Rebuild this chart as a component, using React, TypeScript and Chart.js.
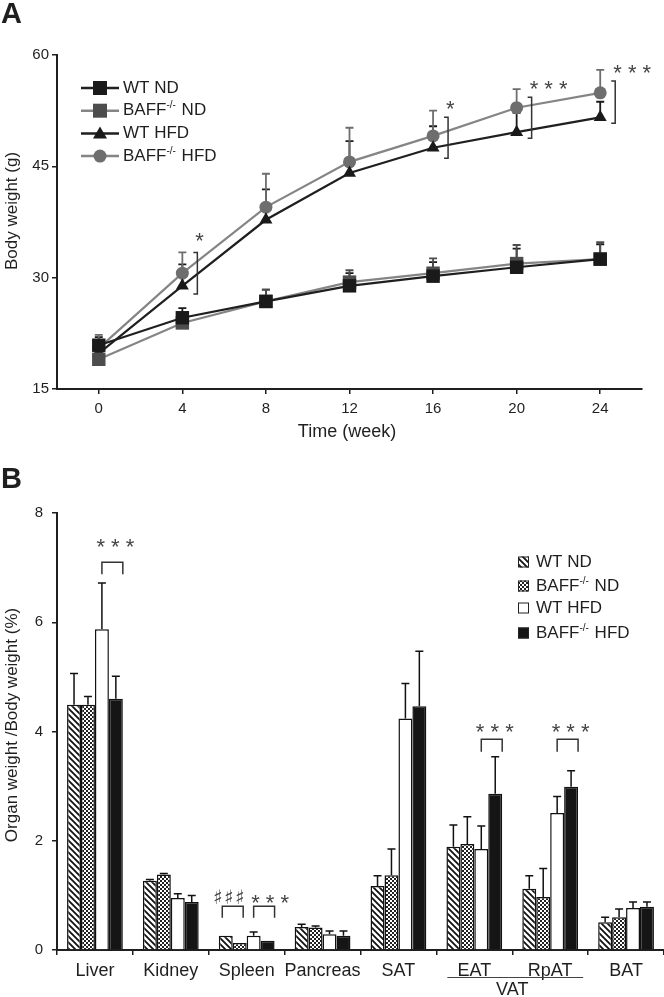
import React, { useEffect, useRef } from "react";
import { Chart, registerables } from "chart.js";
Chart.register(...registerables);

const FONT = "'Liberation Sans', Arial, Helvetica, sans-serif";
const INK = "#1f1f1f";
const GRAY_LINE = "#858585";

// ---------- Panel A: body weight ----------
const WEEKS = [0, 4, 8, 12, 16, 20, 24];
const WT_ND = [20.9, 24.6, 26.8, 28.9, 30.2, 31.4, 32.5];
const WT_ND_SD = [1.1, 1.3, 1.6, 1.7, 1.9, 2.5, 2.0];
const BAFF_ND = [19.0, 23.9, 26.8, 29.4, 30.6, 31.9, 32.5];
const BAFF_ND_SD = [1.2, 0.8, 1.6, 1.6, 2.0, 2.5, 2.3];
const WT_HFD = [19.8, 28.9, 37.8, 44.1, 47.5, 49.6, 51.6];
const WT_HFD_SD = [1.2, 2.9, 4.1, 4.3, 2.9, 2.6, 2.1];
const BAFF_HFD = [20.5, 30.6, 39.5, 45.6, 49.1, 52.9, 54.9];
const BAFF_HFD_SD = [1.8, 2.8, 4.5, 4.6, 3.4, 2.5, 3.1];
const WEIGHT_TICKS = [15, 30, 45, 60];
const SIG_WEEKS = [4, 16, 20, 24];
const SIG_LABELS = ["*", "*", "* * *", "* * *"];
const SIG_TOP = [33.4, 51.6, 54.3, 56.5];
const SIG_BOTTOM = [27.8, 46.1, 48.8, 50.8];

// ---------- Panel B: organ weights ----------
const ORGANS = ["Liver", "Kidney", "Spleen", "Pancreas", "SAT", "EAT", "RpAT", "BAT"];
const B_WT_ND = [4.49, 1.27, 0.26, 0.42, 1.17, 1.89, 1.12, 0.51];
const B_WT_ND_SD = [0.57, 0.02, 0.0, 0.05, 0.19, 0.4, 0.24, 0.09];
const B_BAFF_ND = [4.49, 1.38, 0.13, 0.41, 1.37, 1.94, 0.97, 0.6];
const B_BAFF_ND_SD = [0.15, 0.02, 0.0, 0.03, 0.48, 0.5, 0.52, 0.15];
const B_WT_HFD = [5.87, 0.95, 0.26, 0.29, 4.24, 1.85, 2.51, 0.77];
const B_WT_HFD_SD = [0.85, 0.08, 0.07, 0.06, 0.64, 0.42, 0.3, 0.11];
const B_BAFF_HFD = [4.6, 0.88, 0.17, 0.26, 4.46, 2.86, 2.99, 0.79];
const B_BAFF_HFD_SD = [0.41, 0.12, 0.0, 0.09, 1.01, 0.68, 0.29, 0.09];
const BAR_SIG_CAT = [0, 2, 2, 5, 6];
const BAR_SIG_A = [2, 0, 2, 2, 2];
const BAR_SIG_B = [3, 1, 3, 3, 3];
const BAR_SIG_LABEL = ["* * *", "\u266F\u266F\u266F", "* * *", "* * *", "* * *"];
const BAR_SIG_TOP = [7.1, 0.8, 0.8, 3.86, 3.86];
const BAR_SIG_LEG = [6.88, 0.59, 0.59, 3.63, 3.63];
const BAR_SIG_TEXT = [7.45, 0.93, 0.93, 4.06, 4.06];

type Part = { t: string; sup?: boolean };
const LEGEND_TEXT: Part[][] = [
  [{ t: "WT ND" }],
  [{ t: "BAFF" }, { t: "-/-", sup: true }, { t: " ND" }],
  [{ t: "WT HFD" }],
  [{ t: "BAFF" }, { t: "-/-", sup: true }, { t: " HFD" }],
];

function drawParts(ctx: CanvasRenderingContext2D, x: number, y: number, parts: Part[], size = 17) {
  let cx = x;
  ctx.textAlign = "left";
  ctx.textBaseline = "middle";
  for (const p of parts) {
    ctx.font = p.sup ? `${Math.round(size * 0.6)}px ${FONT}` : `${size}px ${FONT}`;
    ctx.fillText(p.t, cx, p.sup ? y - 5 : y);
    cx += ctx.measureText(p.t).width + (p.sup ? 1 : 0);
  }
}

function drawMarker(ctx: CanvasRenderingContext2D, style: string, x: number, y: number, color: string) {
  ctx.fillStyle = color;
  ctx.beginPath();
  if (style === "rect") {
    ctx.rect(x - 7, y - 7, 14, 14);
  } else if (style === "triangle") {
    ctx.moveTo(x, y - 7);
    ctx.lineTo(x + 7, y + 5);
    ctx.lineTo(x - 7, y + 5);
    ctx.closePath();
  } else {
    ctx.arc(x, y, 6.5, 0, Math.PI * 2);
  }
  ctx.fill();
}

function makeStripes(): CanvasPattern | string {
  const c = document.createElement("canvas");
  c.width = 6;
  c.height = 6;
  const g = c.getContext("2d")!;
  g.fillStyle = "#fff";
  g.fillRect(0, 0, 6, 6);
  g.strokeStyle = "#111";
  g.lineWidth = 1.8;
  g.beginPath();
  for (const o of [-6, 0, 6]) {
    g.moveTo(o - 1, -1);
    g.lineTo(o + 7, 7);
  }
  g.stroke();
  return g.createPattern(c, "repeat") || "#888";
}

function makeChecker(): CanvasPattern | string {
  const c = document.createElement("canvas");
  c.width = 4;
  c.height = 4;
  const g = c.getContext("2d")!;
  g.fillStyle = "#fff";
  g.fillRect(0, 0, 4, 4);
  g.fillStyle = "#222";
  g.fillRect(0, 0, 2, 2);
  g.fillRect(2, 2, 2, 2);
  return g.createPattern(c, "repeat") || "#666";
}

function TopChart() {
  const ref = useRef<HTMLCanvasElement>(null);
  useEffect(() => {
    const series = [
      { label: "WT ND", v: WT_ND, sd: WT_ND_SD, c: "#1a1a1a", l: INK, s: "rect", r: 9.5 },
      { label: "BAFF ND", v: BAFF_ND, sd: BAFF_ND_SD, c: "#4d4d4d", l: GRAY_LINE, s: "rect", r: 9.5 },
      { label: "WT HFD", v: WT_HFD, sd: WT_HFD_SD, c: "#1a1a1a", l: INK, s: "triangle", r: 7.5 },
      { label: "BAFF HFD", v: BAFF_HFD, sd: BAFF_HFD_SD, c: "#6e6e6e", l: GRAY_LINE, s: "circle", r: 6.5 },
    ];
    const errPlugin = {
      id: "errA",
      beforeDatasetsDraw(chart: any) {
        const ctx = chart.ctx;
        const ys = chart.scales.y;
        ctx.save();
        chart.data.datasets.forEach((ds: any, di: number) => {
          const meta = chart.getDatasetMeta(di);
          meta.data.forEach((pt: any, i: number) => {
            const top = ys.getPixelForValue(ds.data[i].y + ds.errors[i]);
            ctx.strokeStyle = ds.pointBackgroundColor;
            ctx.lineWidth = 1.8;
            ctx.beginPath();
            ctx.moveTo(pt.x, pt.y);
            ctx.lineTo(pt.x, top);
            ctx.moveTo(pt.x - 4, top);
            ctx.lineTo(pt.x + 4, top);
            ctx.stroke();
          });
        });
        ctx.restore();
      },
      afterDraw(chart: any) {
        const ctx = chart.ctx;
        const xs = chart.scales.x;
        const ys = chart.scales.y;
        ctx.save();
        // significance brackets
        SIG_WEEKS.forEach((w, i) => {
          const bx = xs.getPixelForValue(w) + 15;
          const t = ys.getPixelForValue(SIG_TOP[i]);
          const b = ys.getPixelForValue(SIG_BOTTOM[i]);
          ctx.strokeStyle = "#333";
          ctx.lineWidth = 1.5;
          ctx.beginPath();
          ctx.moveTo(bx - 4, t);
          ctx.lineTo(bx, t);
          ctx.lineTo(bx, b);
          ctx.lineTo(bx - 4, b);
          ctx.stroke();
          ctx.fillStyle = "#444";
          ctx.font = `22px ${FONT}`;
          ctx.textAlign = "left";
          ctx.textBaseline = "middle";
          ctx.fillText(SIG_LABELS[i], bx - 2, t - 12 + 5 - (i === 0 ? 3 : 0));
        });
        // legend
        series.forEach((s, i) => {
          const y = 88 + i * 22.7;
          ctx.strokeStyle = s.l;
          ctx.lineWidth = 2.5;
          ctx.beginPath();
          ctx.moveTo(81, y);
          ctx.lineTo(119, y);
          ctx.stroke();
          drawMarker(ctx, s.s, 100, y, s.c);
          ctx.fillStyle = INK;
          drawParts(ctx, 123, y, LEGEND_TEXT[i], 17);
        });
        // titles
        ctx.fillStyle = INK;
        ctx.font = `18px ${FONT}`;
        ctx.textAlign = "center";
        ctx.textBaseline = "middle";
        ctx.fillText("Time (week)", 347, 432);
        ctx.font = `17px ${FONT}`;
        ctx.save();
        ctx.translate(12, 211);
        ctx.rotate(-Math.PI / 2);
        ctx.fillText("Body weight (g)", 0, 0);
        ctx.restore();
        ctx.font = `bold 29px ${FONT}`;
        ctx.textAlign = "left";
        ctx.textBaseline = "alphabetic";
        ctx.fillText("A", 1, 23);
        ctx.restore();
      },
    };
    const chart = new Chart(ref.current!, {
      type: "line",
      data: {
        datasets: series.map((s) => ({
          label: s.label,
          data: WEEKS.map((w, i) => ({ x: w, y: s.v[i] })),
          errors: s.sd,
          borderColor: s.l,
          backgroundColor: s.c,
          pointBackgroundColor: s.c,
          pointBorderColor: s.c,
          pointBorderWidth: 0,
          pointStyle: s.s,
          pointRadius: s.r,
          borderWidth: 2.2,
          tension: 0,
          fill: false,
        })) as any,
      },
      options: {
        responsive: false,
        animation: false,
        layout: { padding: { top: 55, right: 22, left: 0, bottom: 0 } },
        plugins: { legend: { display: false }, tooltip: { enabled: false } },
        scales: {
          x: {
            type: "linear",
            min: -2,
            max: 26,
            afterBuildTicks: (s: any) => {
              s.ticks = WEEKS.map((v) => ({ value: v }));
            },
            afterFit: (s: any) => {
              s.height = 71;
            },
            grid: { display: true, drawOnChartArea: false, drawTicks: true, tickLength: 5, color: INK, lineWidth: 1.5 },
            border: { display: true, color: INK, width: 2 },
            ticks: { font: { family: FONT, size: 15 }, color: INK, padding: 6, maxRotation: 0, autoSkip: false },
          },
          y: {
            min: 15,
            max: 60,
            afterBuildTicks: (s: any) => {
              s.ticks = WEIGHT_TICKS.map((v) => ({ value: v }));
            },
            afterFit: (s: any) => {
              s.width = 57;
            },
            grid: { display: true, drawOnChartArea: false, drawTicks: true, tickLength: 5, color: INK, lineWidth: 1.5 },
            border: { display: true, color: INK, width: 2 },
            ticks: { font: { family: FONT, size: 15 }, color: INK, padding: 3 },
          },
        },
      },
      plugins: [errPlugin],
    } as any);
    return () => chart.destroy();
  }, []);
  return <canvas ref={ref} width={664} height={460} style={{ position: "absolute", left: 0, top: 0 }} />;
}

function BottomChart() {
  const ref = useRef<HTMLCanvasElement>(null);
  useEffect(() => {
    const stripes = makeStripes();
    const checker = makeChecker();
    const series = [
      { label: "WT ND", v: B_WT_ND, sd: B_WT_ND_SD, fill: stripes },
      { label: "BAFF ND", v: B_BAFF_ND, sd: B_BAFF_ND_SD, fill: checker },
      { label: "WT HFD", v: B_WT_HFD, sd: B_WT_HFD_SD, fill: "#ffffff" },
      { label: "BAFF HFD", v: B_BAFF_HFD, sd: B_BAFF_HFD_SD, fill: "#151515" },
    ];
    const BRACKET_SHIFT = [0, -3.5, 0, 0, 0];
    const LABEL_DX = [3, -4, 6, 3, 3];
    const plugin = {
      id: "errB",
      afterDatasetsDraw(chart: any) {
        const ctx = chart.ctx;
        const ys = chart.scales.y;
        ctx.save();
        ctx.strokeStyle = "#111";
        ctx.lineWidth = 1.5;
        chart.data.datasets.forEach((ds: any, di: number) => {
          const meta = chart.getDatasetMeta(di);
          meta.data.forEach((bar: any, i: number) => {
            if (!ds.errors[i]) return;
            const top = ys.getPixelForValue(ds.data[i] + ds.errors[i]);
            ctx.beginPath();
            ctx.moveTo(bar.x, bar.y);
            ctx.lineTo(bar.x, top);
            ctx.moveTo(bar.x - 4, top);
            ctx.lineTo(bar.x + 4, top);
            ctx.stroke();
          });
        });
        ctx.restore();
      },
      afterDraw(chart: any) {
        const ctx = chart.ctx;
        const xs = chart.scales.x;
        const ys = chart.scales.y;
        ctx.save();
        // brackets
        BAR_SIG_CAT.forEach((c, i) => {
          const ma = chart.getDatasetMeta(BAR_SIG_A[i]).data[c];
          const mb = chart.getDatasetMeta(BAR_SIG_B[i]).data[c];
          const x1 = ma.x + BRACKET_SHIFT[i];
          const x2 = mb.x + mb.width / 2 + BRACKET_SHIFT[i];
          const t = ys.getPixelForValue(BAR_SIG_TOP[i]);
          const l = ys.getPixelForValue(BAR_SIG_LEG[i]);
          ctx.strokeStyle = "#333";
          ctx.lineWidth = 1.5;
          ctx.beginPath();
          ctx.moveTo(x1, l);
          ctx.lineTo(x1, t);
          ctx.lineTo(x2, t);
          ctx.lineTo(x2, l);
          ctx.stroke();
          ctx.fillStyle = "#444";
          const cx = (x1 + x2) / 2 + LABEL_DX[i];
          const cy = ys.getPixelForValue(BAR_SIG_TEXT[i]);
          ctx.textAlign = "center";
          ctx.textBaseline = "middle";
          if (BAR_SIG_LABEL[i].indexOf("*") < 0) {
            ctx.font = `20px 'DejaVu Sans', ${FONT}`;
            const chars = Array.from(BAR_SIG_LABEL[i]);
            chars.forEach((ch, k) => {
              ctx.fillText(ch, cx + (k - (chars.length - 1) / 2) * 11, cy);
            });
          } else {
            ctx.font = `22px ${FONT}`;
            ctx.fillText(BAR_SIG_LABEL[i], cx, cy + 5);
          }
        });
        // legend
        series.forEach((s, i) => {
          const y = [102, 126, 148, 173][i];
          ctx.fillStyle = s.fill as any;
          ctx.fillRect(518, y - 5.5, 11, 11);
          ctx.strokeStyle = "#222";
          ctx.lineWidth = 1;
          ctx.strokeRect(518.5, y - 5, 10, 10);
          ctx.fillStyle = INK;
          drawParts(ctx, 536, y, LEGEND_TEXT[i], 17);
        });
        // VAT grouping
        const ex = xs.getPixelForValue(5);
        const rx = xs.getPixelForValue(6);
        ctx.strokeStyle = "#444";
        ctx.lineWidth = 1;
        ctx.beginPath();
        ctx.moveTo(ex - 27, 517.5);
        ctx.lineTo(rx + 33, 517.5);
        ctx.stroke();
        ctx.fillStyle = INK;
        ctx.font = `18px ${FONT}`;
        ctx.textAlign = "center";
        ctx.textBaseline = "middle";
        ctx.fillText("VAT", (ex - 27 + rx + 33) / 2 - 3, 530);
        // y title
        ctx.font = `17px ${FONT}`;
        ctx.save();
        ctx.translate(12, 265);
        ctx.rotate(-Math.PI / 2);
        ctx.fillText("Organ weight /Body weight (%)", 0, 0);
        ctx.restore();
        ctx.font = `bold 29px ${FONT}`;
        ctx.textAlign = "left";
        ctx.textBaseline = "alphabetic";
        ctx.fillText("B", 1, 28);
        ctx.restore();
      },
    };
    const chart = new Chart(ref.current!, {
      type: "bar",
      data: {
        labels: ORGANS,
        datasets: series.map((s) => ({
          label: s.label,
          data: s.v,
          errors: s.sd,
          backgroundColor: s.fill,
          borderColor: "#111",
          borderWidth: 1.5,
          categoryPercentage: 0.735,
          barPercentage: 1.0,
        })) as any,
      },
      options: {
        responsive: false,
        animation: false,
        layout: { padding: { top: 53, right: 0, left: 0, bottom: 0 } },
        plugins: { legend: { display: false }, tooltip: { enabled: false } },
        scales: {
          x: {
            afterFit: (s: any) => {
              s.height = 47;
            },
            grid: { display: true, offset: true, drawOnChartArea: false, drawTicks: true, tickLength: 5, color: INK, lineWidth: 1.5 },
            border: { display: true, color: INK, width: 2 },
            ticks: { font: { family: FONT, size: 18 }, color: INK, padding: 5, maxRotation: 0, autoSkip: false },
          },
          y: {
            min: 0,
            max: 8,
            ticks: { stepSize: 2, font: { family: FONT, size: 15 }, color: INK, padding: 9 },
            afterFit: (s: any) => {
              s.width = 57;
            },
            grid: { display: true, drawOnChartArea: false, drawTicks: true, tickLength: 5, color: INK, lineWidth: 1.5 },
            border: { display: true, color: INK, width: 2 },
          },
        },
      },
      plugins: [plugin],
    } as any);
    return () => chart.destroy();
  }, []);
  return <canvas ref={ref} width={664} height={537} style={{ position: "absolute", left: 0, top: 460 }} />;
}

export default function App() {
  return (
    <div style={{ position: "absolute", left: 0, top: 0, width: 664, height: 997, background: "#fff" }}>
      <TopChart />
      <BottomChart />
    </div>
  );
}
